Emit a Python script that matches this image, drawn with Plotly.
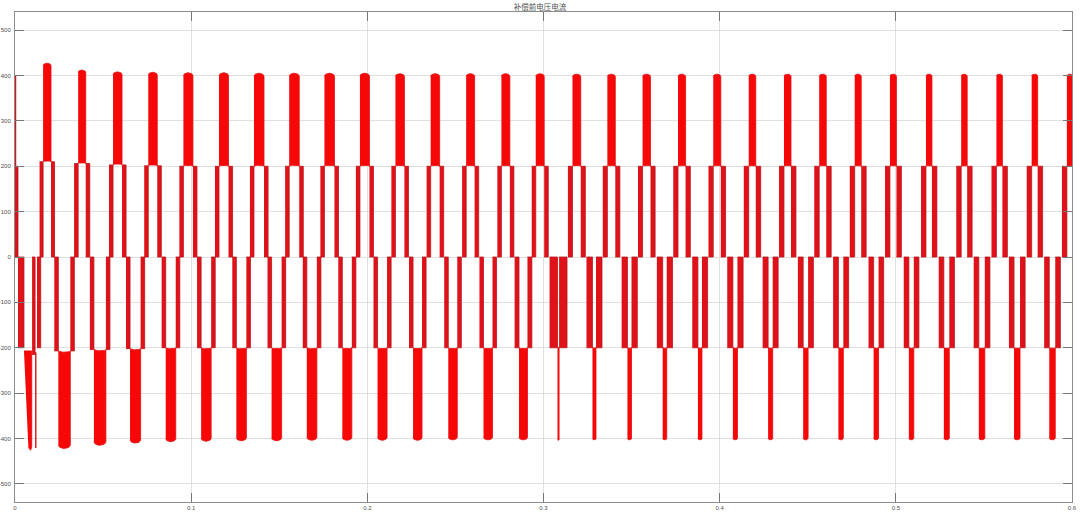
import numpy as np
import plotly.graph_objects as go

TITLE = "补偿前电压电流"
X_TICKS = [0, 0.1, 0.2, 0.3, 0.4, 0.5, 0.6]
X_TICK_LABELS = ["0", "0.1", "0.2", "0.3", "0.4", "0.5", "0.6"]
Y_TICKS = [-500, -400, -300, -200, -100, 0, 100, 200, 300, 400, 500]
Y_TICK_LABELS = ["-500", "-400", "-300", "-200", "-100", "0", "100", "200", "300", "400", "500"]

# positive half-cycles: centre time (s), width of 200->peak block (ms), peak value, shoulder level, width of 0->200 blocks (ms)
pos_t = [0.0182, 0.0380, 0.0582, 0.0782, 0.0983, 0.1185, 0.1385, 0.1585, 0.1785, 0.1985,
         0.2185, 0.2385, 0.2585, 0.2785, 0.2980, 0.3188, 0.3385, 0.3585, 0.3785, 0.3985,
         0.4185, 0.4385, 0.4585, 0.4785, 0.4985, 0.5188, 0.5388, 0.5588, 0.5788, 0.5988]
pos_w_ms = [4.5, 4.3, 5.1, 5.1, 5.4, 5.4, 5.7, 5.7, 5.7, 5.4,
            5.1, 5.1, 4.8, 4.8, 4.8, 4.7, 4.5, 4.5, 4.3, 4.3,
            4.0, 4.0, 4.0, 3.7, 3.7, 3.4, 3.4, 3.4, 3.4, 3.4]
pos_v = [427, 412, 408, 407, 406, 406, 405, 405, 405, 405,
         404, 404, 404, 404, 404, 403, 403, 403, 403, 403,
         403, 403, 403, 403, 403, 403, 403, 403, 403, 403]
pos_sh = [210, 206, 203, 201, 200, 200, 200, 200, 200, 200,
          200, 200, 200, 200, 200, 200, 200, 200, 200, 200,
          200, 200, 200, 200, 200, 200, 200, 200, 200, 200]
pos_band_ms = [2.0, 2.3, 2.3, 2.3, 2.3, 2.3, 2.3, 2.3, 2.3, 2.3,
               2.3, 2.3, 2.3, 2.3, 2.3, 2.6, 2.6, 2.6, 2.7, 2.7,
               2.8, 2.8, 2.8, 2.8, 2.8, 2.8, 2.8, 2.8, 2.8, 2.8]

# negative half-cycles
neg_t = [0.0280, 0.0482, 0.0683, 0.0884, 0.1085, 0.1285, 0.1485, 0.1685, 0.1885, 0.2085,
         0.2285, 0.2485, 0.2685, 0.2885, 0.3084, 0.3288, 0.3488, 0.3688, 0.3888, 0.4088,
         0.4288, 0.4488, 0.4688, 0.4888, 0.5088, 0.5288, 0.5488, 0.5688, 0.5888]
neg_w_ms = [6.8, 6.8, 6.0, 5.7, 5.7, 5.7, 5.7, 5.7, 5.4, 5.4,
            5.1, 5.1, 5.1, 4.8, 0.9, 2.0, 2.3, 2.3, 2.3, 2.6,
            2.6, 2.8, 2.8, 2.8, 2.8, 3.1, 3.4, 3.4, 3.4]
neg_v = [-422, -415, -410, -407, -406, -405, -405, -404, -404, -404,
         -404, -403, -403, -403, -404, -403, -403, -403, -403, -403,
         -403, -403, -403, -403, -403, -403, -403, -403, -403]
neg_sh = [-207, -204, -202, -200, -200, -200, -200, -200, -200, -200,
          -200, -200, -200, -200, -200, -200, -200, -200, -200, -200,
          -200, -200, -200, -200, -200, -200, -200, -200, -200]
neg_band_ms = [2.3, 2.3, 2.3, 2.3, 2.3, 2.3, 2.3, 2.3, 2.3, 2.3,
               2.3, 2.3, 2.3, 2.5, 4.5, 3.4, 3.3, 3.3, 3.2, 3.2,
               3.1, 3.0, 3.0, 2.9, 2.9, 2.9, 2.9, 2.9, 2.9]

# start-up transient
start_band_t0 = [0.0000, 0.0017, 0.0097, 0.0125]
start_band_t1 = [0.0017, 0.0051, 0.0114, 0.0146]
start_band_v = [200, -200, -215, -200]
start_spike_t = [0.0003, 0.0118]
start_spike_v0 = [0, -210]
start_spike_v1 = [400, -421]
start_tail_t = [0.0051, 0.0095, 0.0095, 0.0089, 0.0076]
start_tail_v = [-207, -207, -418, -426, -420]

# figure geometry
W, H = 1080, 518
ML, MR, MT, MB = 15, 8, 12, 16
X_RANGE = [0, 0.6]
Y_RANGE = [-540, 540]
XPP = (X_RANGE[1] - X_RANGE[0]) / (W - ML - MR)
YPP = (Y_RANGE[1] - Y_RANGE[0]) / (H - MT - MB)
CAP = 0.6


def peak_poly(c, w_ms, v, s):
    sign = 1 if v > 0 else -1
    rx = w_ms / 2000.0
    ry = min(CAP * rx / XPP * YPP, abs(v - s) / 2)
    h = 0.35 * ry
    th_cap = np.linspace(np.pi, 0, 18)
    th_arc = np.linspace(0, np.pi, 14)
    xs = list(c + rx * np.cos(th_cap)) + list(c + rx * np.cos(th_arc))
    ys = list((v - sign * ry) + sign * ry * np.sin(th_cap)) + list(s + sign * h * np.sin(th_arc))
    return xs, ys


def rect(t0, t1, lo, hi):
    return [t0, t1, t1, t0], [lo, lo, hi, hi]


bar_x, bar_y = [], []
band_x, band_y = [], []


def add(dst_x, dst_y, xs, ys):
    dst_x.extend(list(xs) + [None])
    dst_y.extend(list(ys) + [None])


for c, w, v, s, b in zip(pos_t, pos_w_ms, pos_v, pos_sh, pos_band_ms):
    add(bar_x, bar_y, *peak_poly(c, w, v, s))
    half = w / 2000.0
    bw = b / 1000.0
    add(band_x, band_y, *rect(c - half - bw, c - half, 0, s))
    add(band_x, band_y, *rect(c + half, c + half + bw, 0, s))

for c, w, v, s, b in zip(neg_t, neg_w_ms, neg_v, neg_sh, neg_band_ms):
    add(bar_x, bar_y, *peak_poly(c, w, v, s))
    half = w / 2000.0
    bw = b / 1000.0
    add(band_x, band_y, *rect(c - half - bw, c - half, s, 0))
    add(band_x, band_y, *rect(c + half, c + half + bw, s, 0))

for t0, t1, v in zip(start_band_t0, start_band_t1, start_band_v):
    add(band_x, band_y, *rect(t0, t1, min(0, v), max(0, v)))

add(bar_x, bar_y, start_tail_t, start_tail_v)

spike_x, spike_y = [], []
for t, v0, v1 in zip(start_spike_t, start_spike_v0, start_spike_v1):
    spike_x.extend([t, t, None])
    spike_y.extend([v0, v1, None])

fig = go.Figure()
fig.add_trace(go.Scatter(
    x=band_x, y=band_y, mode="lines", fill="toself",
    fillcolor="rgb(222,18,24)", line=dict(color="rgb(185,22,30)", width=0.8),
    hoverinfo="skip", showlegend=False))
fig.add_trace(go.Scatter(
    x=bar_x, y=bar_y, mode="lines", fill="toself",
    fillcolor="rgb(246,8,8)", line=dict(color="rgb(228,12,14)", width=0.8),
    hoverinfo="skip", showlegend=False))
fig.add_trace(go.Scatter(
    x=spike_x, y=spike_y, mode="lines",
    line=dict(color="rgb(215,20,25)", width=1.4),
    hoverinfo="skip", showlegend=False))

axis_common = dict(
    showgrid=True, gridcolor="rgb(224,224,224)", gridwidth=1,
    zeroline=False, showline=True, linecolor="rgb(140,140,140)", linewidth=1,
    mirror="ticks", ticks="inside", ticklen=9, tickcolor="rgb(120,120,120)", tickwidth=1,
    tickfont=dict(family="Liberation Sans, Arial, sans-serif", size=6, color="rgb(80,80,80)"),
    automargin=False,
)

fig.update_layout(
    width=W, height=H,
    margin=dict(l=ML, r=MR, t=MT, b=MB, pad=0, autoexpand=False),
    paper_bgcolor="white", plot_bgcolor="white",
    title=dict(text=TITLE, x=0.5, xanchor="center", y=1 - 7 / H, yanchor="middle",
               font=dict(family="Noto Sans CJK SC", size=7.5, color="rgb(80,80,80)")),
    xaxis=dict(range=X_RANGE, tickvals=X_TICKS, ticktext=X_TICK_LABELS, **axis_common),
    yaxis=dict(range=Y_RANGE, tickvals=Y_TICKS, ticktext=Y_TICK_LABELS,
               ticklabelstandoff=2, **axis_common),
)

fig.write_html("out.html", config={"displayModeBar": False, "staticPlot": True},
               post_script="document.body.style.margin='0';document.body.style.overflow='hidden';")
